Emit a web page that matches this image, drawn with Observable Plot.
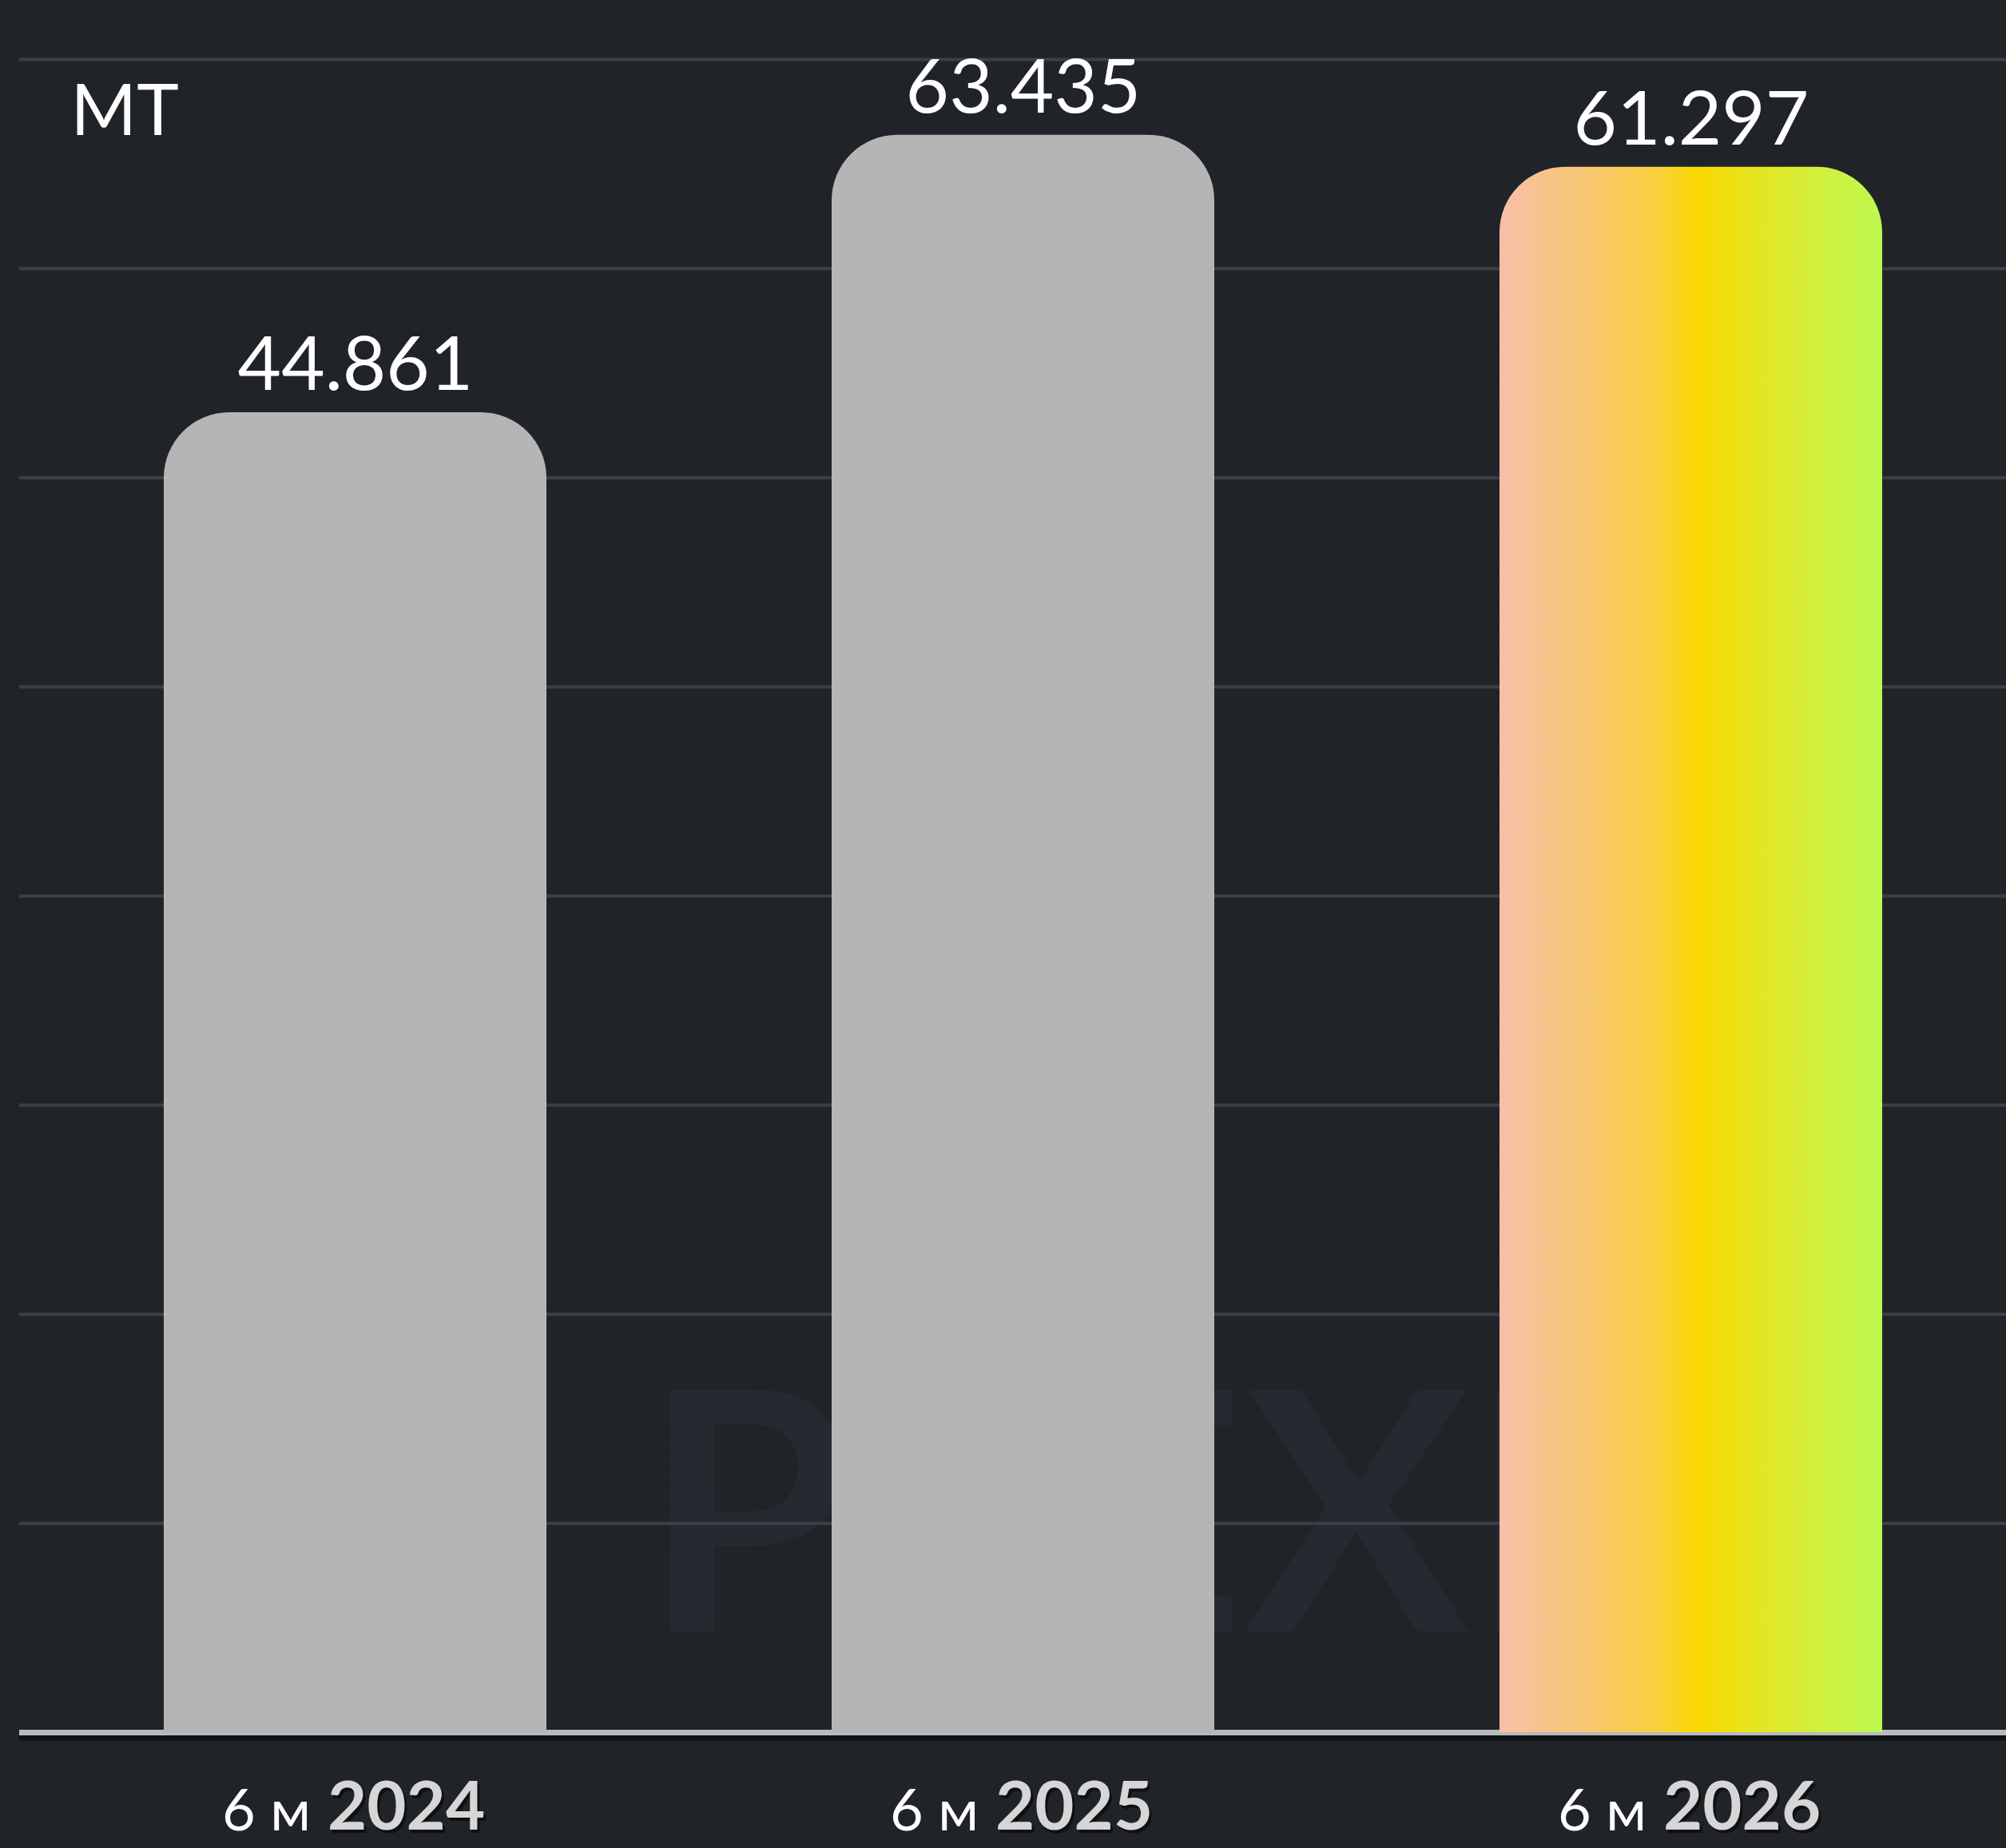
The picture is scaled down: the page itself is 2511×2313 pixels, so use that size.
<!DOCTYPE html>
<html>
<head>
<meta charset="utf-8">
<script src="https://cdn.jsdelivr.net/npm/d3@7"></script>
<script src="https://cdn.jsdelivr.net/npm/@observablehq/plot@0.6"></script>
<style>
  html, body { margin: 0; padding: 0; background: #202429; }
  svg { display: block; }
</style>
</head>
<body>
<script>
// ---- data ----
const years = ["2024", "2025", "2026"];
const periodPrefix = ["6 м", "6 м", "6 м"];
const values = [44.861, 63.435, 61.297];
const valueLabels = ["44.861", "63.435", "61.297"];
const unitLabel = "MT";
const watermark = "PTEXIM";
// y scale extent (bars in the source are drawn on a non-zero, fitted baseline)
const yFloor = -43.5;
const yTop = 68.5;
const gridValues = [-29.5, -15.5, -1.5, 12.5, 26.5, 40.5, 54.5, 68.5];

const barFills = ["#b5b5b5", "#b5b5b5", "url(#barGrad)"];

const data = years.map((y, i) => ({
  year: y,
  prefix: periodPrefix[i],
  value: values[i],
  label: valueLabels[i],
  fill: barFills[i]
}));

const font = "Lato, 'Open Sans', sans-serif";

const chart = Plot.plot({
  width: 2511,
  height: 2313,
  marginLeft: 24,
  marginRight: 0,
  marginTop: 74,
  marginBottom: 145,
  style: { background: "#202429", fontFamily: font, overflow: "visible" },
  x: { domain: years, paddingInner: 0.4265, paddingOuter: 0.199, align: 0.54, axis: null },
  y: { domain: [yFloor, yTop], axis: null },
  color: { type: "identity" },
  marks: [
    // faint watermark
    Plot.text([watermark], {
      frameAnchor: "bottom-left", dx: 780, dy: -126,
      textAnchor: "start", lineAnchor: "bottom",
      fontSize: 420, fontWeight: 700, fill: "#262a30",
      style: "letter-spacing: 110px"
    }),
    // gridlines
    Plot.ruleY(gridValues, { stroke: "#3b4047", strokeWidth: 4 }),
    // baseline shadow + baseline
    Plot.ruleY([yFloor], { stroke: "#101316", strokeWidth: 6, dy: 7 }),
    Plot.ruleY([yFloor], { stroke: "#b8babd", strokeWidth: 7 }),
    // bars: rounded full bar + square lower half to keep bottom corners square
    Plot.barY(data, { x: "year", y1: yFloor, y2: "value", fill: "fill", rx: 82 }),
    Plot.barY(data, { x: "year", y1: yFloor, y2: d => (yFloor + d.value) / 2, fill: "fill" }),
    // value labels
    Plot.text(data, {
      x: "year", y: "value", text: "label", dy: -28, lineAnchor: "bottom",
      fontSize: 94, fill: "#ffffff", fontFamily: font
    }),
    // unit label
    Plot.text([unitLabel], {
      frameAnchor: "top-left", dx: 64, dy: 94, textAnchor: "start", lineAnchor: "bottom",
      fontSize: 89, fill: "#ffffff", fontFamily: font
    }),
    // category labels: prefix
    Plot.text(data, {
      x: "year", y: yFloor, text: "prefix", dx: -56, dy: 122,
      textAnchor: "end", lineAnchor: "bottom",
      fontSize: 72, fill: "#ffffff", fontFamily: font,
      style: "word-spacing: 10px"
    }),
    // category labels: year (shadow + face)
    Plot.text(data, {
      x: "year", y: yFloor, text: "year", dx: -32, dy: 125,
      textAnchor: "start", lineAnchor: "bottom",
      fontSize: 85, fontWeight: 700, fill: "#0e1013", fontFamily: font
    }),
    Plot.text(data, {
      x: "year", y: yFloor, text: "year", dx: -35, dy: 121,
      textAnchor: "start", lineAnchor: "bottom",
      fontSize: 85, fontWeight: 700, fill: "#d6d6d6", fontFamily: font
    })
  ]
});

// gradient definition for the highlighted bar
const defs = d3.select(chart).insert("defs", ":first-child");
const grad = defs.append("linearGradient")
  .attr("id", "barGrad")
  .attr("x1", "0%").attr("y1", "0%").attr("x2", "100%").attr("y2", "0%");
[
  [0, "#f9bfa8"],
  [0.22, "#f8c774"],
  [0.42, "#f9d03a"],
  [0.52, "#fad800"],
  [0.66, "#e6e51f"],
  [0.82, "#d3ef3b"],
  [1, "#bdf84e"]
].forEach(([o, c]) => grad.append("stop").attr("offset", o).attr("stop-color", c));

document.body.appendChild(chart);
</script>
</body>
</html>
